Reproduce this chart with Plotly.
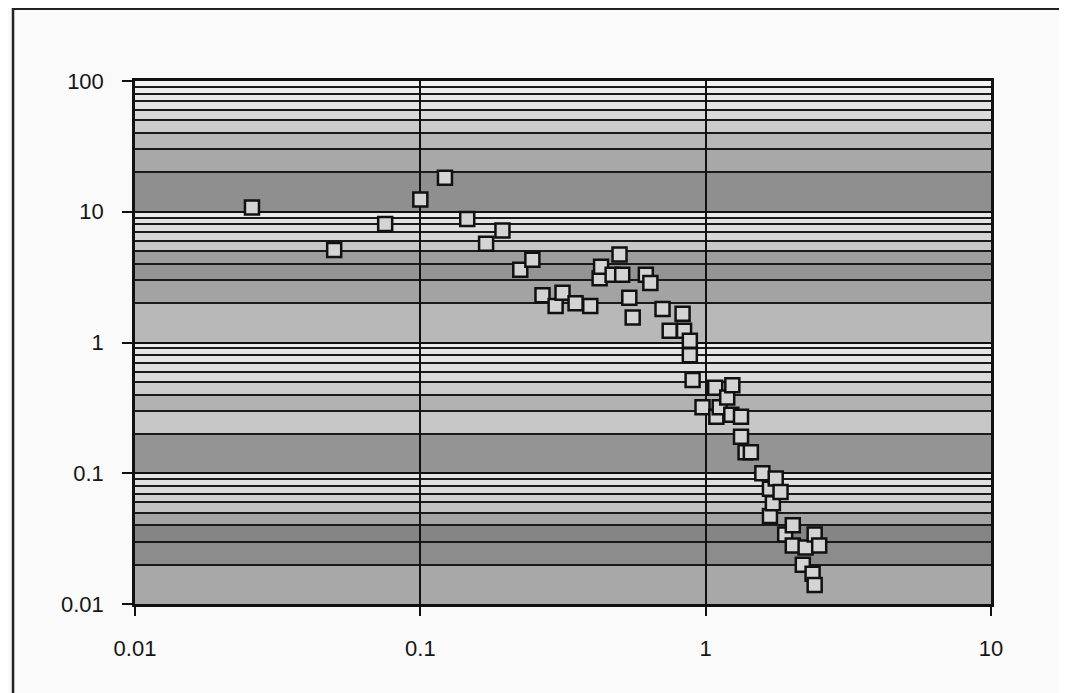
import plotly.graph_objects as go

# Data
x_vals = [0.0257, 0.0499, 0.0753, 0.100, 0.122, 0.146, 0.170, 0.194, 0.224, 0.247,
          0.268, 0.298, 0.315, 0.350, 0.394, 0.425, 0.430, 0.472, 0.499, 0.510,
          0.540, 0.555, 0.617, 0.640, 0.706, 0.748, 0.830, 0.840, 0.880, 0.880,
          0.900, 0.975, 1.08, 1.09, 1.12, 1.19, 1.23, 1.24, 1.33, 1.33,
          1.38, 1.44, 1.58, 1.68, 1.68, 1.72, 1.76, 1.83, 1.90, 2.02,
          2.02, 2.19, 2.24, 2.37, 2.41, 2.41, 2.50]
y_vals = [10.8, 5.1, 8.05, 12.4, 18.2, 8.8, 5.7, 7.2, 3.6, 4.3,
          2.3, 1.9, 2.4, 2.0, 1.9, 3.1, 3.8, 3.3, 4.7, 3.3,
          2.2, 1.55, 3.3, 2.85, 1.8, 1.23, 1.66, 1.23, 1.03, 0.80,
          0.516, 0.32, 0.45, 0.27, 0.32, 0.38, 0.28, 0.47, 0.27, 0.19,
          0.145, 0.145, 0.10, 0.076, 0.047, 0.059, 0.091, 0.072, 0.034, 0.04,
          0.028, 0.02, 0.027, 0.017, 0.034, 0.014, 0.028]

x_ticks = [0.01, 0.1, 1, 10]
x_labels = ["0.01", "0.1", "1", "10"]
y_ticks = [0.01, 0.1, 1, 10, 100]
y_labels = ["0.01", "0.1", "1", "10", "100"]

# Background shading of the scanned plot area (style only): bands between the
# minor log grid lines, one grey level per band (0 = black, 1 = white).
band_edges = [m * 10 ** e for e in (-2, -1, 0, 1) for m in range(1, 10)] + [100]
band_shade = [
    0.66, 0.55, 0.52, 0.64, 0.76, 0.82, 0.86, 0.88, 0.90,   # 0.01 - 0.1
    0.58, 0.78, 0.70, 0.80, 0.86, 0.88, 0.90, 0.90, 0.92,   # 0.1 - 1
    0.72, 0.64, 0.58, 0.62, 0.78, 0.84, 0.87, 0.89, 0.91,   # 1 - 10
    0.56, 0.66, 0.72, 0.80, 0.86, 0.89, 0.91, 0.93, 0.95,   # 10 - 100
]


def grey(s):
    v = int(round(255 * s))
    return f"rgb({v},{v},{v})"


band_shapes = [
    dict(type="rect", xref="x domain", yref="y", layer="below",
         x0=0, x1=1, y0=lo, y1=hi,
         fillcolor=grey(s), line=dict(width=0))
    for lo, hi, s in zip(band_edges[:-1], band_edges[1:], band_shade)
]

fig = go.Figure()
fig.add_trace(go.Scatter(
    x=x_vals, y=y_vals, mode="markers",
    marker=dict(symbol="square", size=14, color="#d4d4d4",
                line=dict(color="#111111", width=2.5)),
    showlegend=False,
))

font = dict(family="Liberation Sans, Arial, sans-serif", size=22, color="#151515")

frame = dict(type="rect", xref="paper", yref="paper",
             x0=-0.1425, x1=1.3, y0=-0.4, y1=1.138,
             line=dict(color="#222222", width=2.5))

fig.update_layout(
    width=1067, height=693,
    margin=dict(l=127, r=84, t=73, b=97),
    paper_bgcolor="#fafafa",
    plot_bgcolor="#bdbdbd",
    font=font,
    xaxis=dict(
        type="log", range=[-2, 1],
        tickvals=x_ticks, ticktext=x_labels,
        showgrid=True, gridcolor="#111111", gridwidth=2,
        showline=True, linecolor="#111111", linewidth=2.5, mirror=True,
        ticks="outside", ticklen=9, tickcolor="#111111", tickwidth=2,
        ticklabelstandoff=14,
        zeroline=False,
    ),
    yaxis=dict(
        type="log", range=[-2, 2],
        tickvals=y_ticks, ticktext=y_labels,
        showgrid=True, gridcolor="#111111", gridwidth=2,
        minor=dict(showgrid=True, gridcolor="#1a1a1a", gridwidth=1.5, dtick="D1", ticks=""),
        showline=True, linecolor="#111111", linewidth=2.5, mirror=True,
        ticks="outside", ticklen=10, tickcolor="#111111", tickwidth=2,
        ticklabelstandoff=14,
        zeroline=False,
    ),
    shapes=band_shapes + [frame],
)

fig.write_html("out.html")
